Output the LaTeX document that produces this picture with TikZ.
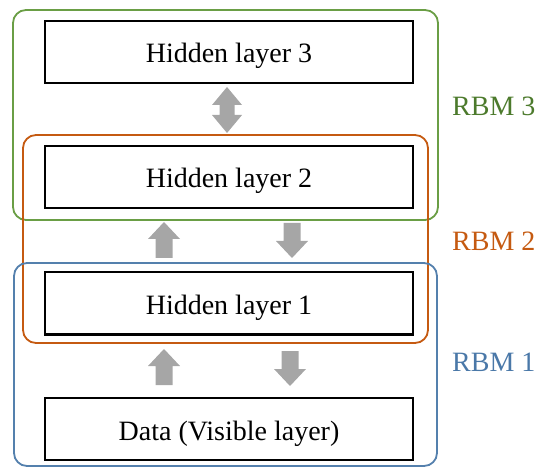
\documentclass[tikz,border=0pt]{standalone}
\usepackage{fontspec}
\setmainfont{Liberation Serif}
\definecolor{rbmgreen}{HTML}{6A9E45}
\definecolor{rbmgreentext}{HTML}{4C7A2C}
\definecolor{rbmorange}{HTML}{C55A11}
\definecolor{rbmblue}{HTML}{5480AD}
\definecolor{rbmbluetext}{HTML}{4A78A8}
\definecolor{arrowgray}{HTML}{A6A6A6}
\tikzset{
  uparrow/.pic={\fill[arrowgray] (0,0) -- (16,17) -- (8.5,17) -- (8.5,36) -- (-8.5,36) -- (-8.5,17) -- (-16,17) -- cycle;},
  downarrow/.pic={\fill[arrowgray] (0,0) -- (16,-17) -- (8.5,-17) -- (8.5,-35) -- (-8.5,-35) -- (-8.5,-17) -- (-16,-17) -- cycle;},
  updownarrow/.pic={\fill[arrowgray] (0,-23) -- (15,-5) -- (7.5,-5) -- (7.5,5) -- (15,5) -- (0,23) -- (-15,5) -- (-7.5,5) -- (-7.5,-5) -- (-15,-5) -- cycle;}
}
\begin{document}
\begin{tikzpicture}[x=1pt,y=-1pt,
  layer/.style={draw=black,line width=2pt,minimum width=368pt,minimum height=62pt,inner sep=0pt,text height=22pt,text depth=0pt,font=\fontsize{28}{34}\selectfont},
  group/.style={line width=1.8pt,rounded corners=13pt,inner sep=0pt},
  lab/.style={font=\fontsize{28}{34}\selectfont,anchor=base west,inner sep=0pt}]
\useasboundingbox (0,0) rectangle (539,468);
% group frames
\node[group,draw=rbmgreen,minimum width=425pt,minimum height=210pt] (rbm3) at (225.5,115) {};
\node[group,draw=rbmorange,minimum width=405pt,minimum height=208pt] (rbm2) at (225.5,239) {};
\node[group,draw=rbmblue,minimum width=423pt,minimum height=203pt] (rbm1) at (225.5,364.5) {};
% layers
\node[layer] (h3) at (229,52) {Hidden layer 3};
\node[layer] (h2) at (229,177) {Hidden layer 2};
\node[layer] (h1) at (229,303.5) {Hidden layer 1};
\node[layer] (data) at (229,429) {Data (Visible layer)};
% labels
\node[lab,text=rbmgreentext] (l3) at (452,116) {RBM 3};
\node[lab,text=rbmorange] (l2) at (452,251) {RBM 2};
\node[lab,text=rbmbluetext] (l1) at (452,371) {RBM 1};
% block arrows
\pic at (227,110) {updownarrow};
\pic at (164,222) {uparrow};
\pic at (292,258) {downarrow};
\pic at (164,349) {uparrow};
\pic at (290,386) {downarrow};
\end{tikzpicture}
\end{document}
